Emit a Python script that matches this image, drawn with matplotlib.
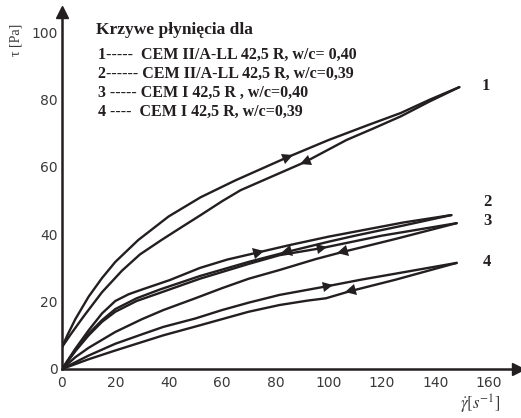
import numpy as np
import matplotlib
matplotlib.use("Agg")
import matplotlib.pyplot as plt
from matplotlib.markers import MarkerStyle
from matplotlib.transforms import Affine2D

# flow curves: up branch (rising shear rate) and down branch
c1_up_x = [0, 2, 5, 10, 15, 20, 28.6, 40, 52, 65, 84.6, 100, 115, 127, 138, 149]
c1_up_y = [6.5, 10.0, 14.8, 21.5, 27.0, 31.8, 38.3, 45.3, 51.0, 56.0, 62.9, 68.0, 72.5, 76.0, 80.0, 83.7]
c1_dn_x = [0, 3, 8, 15, 22.5, 29.2, 37.3, 45, 52, 60, 67, 80, 91, 106.7, 117, 127, 138, 149]
c1_dn_y = [6.5, 10.0, 15.5, 22.8, 29.2, 34.0, 38.3, 42.2, 45.7, 49.8, 53.1, 57.6, 61.4, 68.0, 71.5, 75.0, 79.5, 83.7]

c2_up_x = [0, 5, 10, 15, 20, 25, 30, 40.4, 51.7, 62, 74, 85.4, 100, 110, 128, 146]
c2_up_y = [0, 6.0, 11.5, 16.5, 20.2, 22.2, 23.6, 26.4, 30.0, 32.5, 34.7, 36.8, 39.3, 40.8, 43.5, 45.7]
c2_dn_x = [0, 5, 10, 15, 20, 28, 36.7, 51.7, 70, 84, 100, 110, 128, 146]
c2_dn_y = [0, 5.5, 10.5, 14.5, 17.8, 21.0, 23.6, 27.6, 31.8, 34.7, 37.8, 39.6, 42.6, 45.7]

c3_up_x = [0, 5, 10, 15, 20, 28, 36.7, 51.7, 70, 81.6, 97.4, 120, 148]
c3_up_y = [0, 5.3, 10.0, 14.0, 17.0, 20.2, 22.6, 26.8, 31.2, 33.8, 35.9, 39.6, 43.3]
c3_dn_x = [0, 5, 10, 20, 30, 38, 50, 60, 70, 81.6, 95, 105, 125, 148]
c3_dn_y = [0, 3.5, 6.3, 11.0, 14.8, 17.5, 21.0, 24.0, 26.8, 29.4, 32.6, 34.7, 38.6, 43.3]

c4_up_x = [0, 10, 20, 30, 38, 50, 60, 70, 81.6, 99.6, 112, 125, 148]
c4_up_y = [0, 4.0, 7.5, 10.3, 12.5, 15.0, 17.5, 19.7, 22.0, 24.6, 26.5, 28.3, 31.5]
c4_dn_x = [0, 10, 20, 30, 38, 50, 60, 70, 81.6, 92, 99, 108, 125, 148]
c4_dn_y = [0, 2.9, 5.5, 8.0, 10.0, 12.6, 14.8, 17.0, 19.0, 20.3, 21.0, 23.1, 26.5, 31.5]

# where the direction arrows sit on each branch (x value)
arrow_up_x = [84.6, 74, 97.4, 99.6]
arrow_dn_x = [91, 84, 105, 107.9]

curve_names = ["1", "2", "3", "4"]
name_pos = [(486, 86), (487, 202), (487, 221), (487, 262)]  # pixel positions of the end labels
legend_title = "Krzywe płynięcia dla"
legend_rows = [
    "1-----  CEM II/A-LL 42,5 R, w/c= 0,40",
    "2------ CEM II/A-LL 42,5 R, w/c=0,39",
    "3 ----- CEM I 42,5 R , w/c=0,40",
    "4 ----  CEM I 42,5 R, w/c=0,39",
]
x_ticks = [0, 20, 40, 60, 80, 100, 120, 140, 160]
y_ticks = [0, 20, 40, 60, 80, 100]

ups = [(c1_up_x, c1_up_y), (c2_up_x, c2_up_y), (c3_up_x, c3_up_y), (c4_up_x, c4_up_y)]
downs = [(c1_dn_x, c1_dn_y), (c2_dn_x, c2_dn_y), (c3_dn_x, c3_dn_y), (c4_dn_x, c4_dn_y)]

ink = "#231f20"
grey = "#3a3a3a"
W, H = 521, 418
fig = plt.figure(figsize=(W / 100, H / 100), dpi=100)
ax = fig.add_axes([62 / W, (H - 369) / H, (518 - 62) / W, (369 - 12) / H])
ax.set_xlim(0, 171)
ax.set_ylim(0, 106)

for (ux, uy), (dx, dy) in zip(ups, downs):
    ax.plot(ux, uy, color=ink, lw=1.7, solid_capstyle="round", solid_joinstyle="round")
    ax.plot(dx, dy, color=ink, lw=1.7, solid_capstyle="round", solid_joinstyle="round")

# direction arrowheads, rotated along the local slope in screen space
def put_arrow(xs, ys, xa, forward):
    ya = np.interp(xa, xs, ys)
    p0 = ax.transData.transform((xa - 2, np.interp(xa - 2, xs, ys)))
    p1 = ax.transData.transform((xa + 2, np.interp(xa + 2, xs, ys)))
    ang = np.degrees(np.arctan2(p1[1] - p0[1], p1[0] - p0[0]))
    if not forward:
        ang += 180
    m = MarkerStyle(">", transform=Affine2D().rotate_deg(ang))
    ax.plot([xa], [ya], marker=m, ms=8, color=ink, mew=0, ls="none")

for (ux, uy), xa in zip(ups, arrow_up_x):
    put_arrow(ux, uy, xa, True)
for (dx, dy), xa in zip(downs, arrow_dn_x):
    put_arrow(dx, dy, xa, False)

# end labels of the curves
for name, (px, py) in zip(curve_names, name_pos):
    fig.text(px / W, 1 - py / H, name, family="Liberation Serif", weight="bold", fontsize=12,
             ha="center", va="center", color=ink)

# axes: only left and bottom, with arrow ends
for s in ["top", "right"]:
    ax.spines[s].set_visible(False)
for s in ["left", "bottom"]:
    ax.spines[s].set_linewidth(1.8)
    ax.spines[s].set_color(ink)
ax.plot([0], [1], marker="^", ms=9, color=ink, transform=ax.transAxes, clip_on=False)
ax.plot([1], [0], marker=">", ms=9, color=ink, transform=ax.transAxes, clip_on=False)

ax.set_xticks(x_ticks)
ax.set_yticks(y_ticks)
ax.set_xticklabels([str(t) for t in x_ticks])
ax.set_yticklabels([str(t) for t in y_ticks])
ax.tick_params(length=0, labelsize=10, labelcolor=grey)
ax.tick_params(axis="x", pad=5)
ax.tick_params(axis="y", pad=3)

fig.text(16 / W, 1 - 40 / H, "τ [Pa]", family="Liberation Serif", fontsize=10, rotation=90,
         ha="center", va="center", color=grey)
fig.text(501 / W, 1 - 404 / H, r"$\dot{\gamma}[s^{-1}]$", fontsize=12, ha="right", va="center",
         color=grey, math_fontfamily="stix")

fig.text(96 / W, 1 - 30 / H, legend_title, family="Liberation Serif", weight="bold", fontsize=12.5,
         ha="left", va="center", color=ink)
for i, row in enumerate(legend_rows):
    fig.text(98 / W, 1 - (55 + i * 19) / H, row, family="Liberation Serif", weight="bold",
             fontsize=11.5, ha="left", va="center", color=ink)

fig.savefig("out.png", dpi=100)
